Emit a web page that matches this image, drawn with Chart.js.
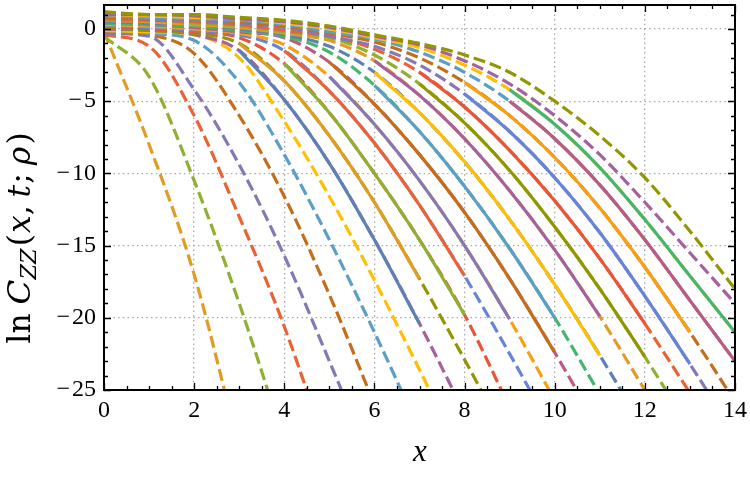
<!DOCTYPE html>
<html><head><meta charset="utf-8">
<script src="https://cdn.jsdelivr.net/npm/chart.js@4"></script>
<style>html,body{margin:0;padding:0;background:#fff}canvas{display:block}</style>
</head><body>
<canvas id="c" width="750" height="480"></canvas>
<script>
// ---- data ----
const xGrid = [0,1,2,3,4,5,6,7,8,9,10,11,12,13,14];
const xTickValues = [0,2,4,6,8,10,12,14];
const xTickLabels = ['0','2','4','6','8','10','12','14'];
const yTickValues = [-25,-20,-15,-10,-5,0];
const yTickLabels = ['\u2212\u200A25','\u2212\u200A20','\u2212\u200A15','\u2212\u200A10','\u2212\u200A5','0'];

// dashed curves (index 2..25 in the colour cycle), values at x = 0,1,2,...
const dashed02 = [-0.2, -8.0, -17.0, -29.1];
const dashed03 = [-0.5, -3.3, -10.5, -19.0, -28.6];
const dashed04 = [-0.4, -1.2, -6.0, -13.0, -20.6, -29.7];
const dashed05 = [-0.3, -0.5, -4.2, -9.4, -15.7, -23.0, -30.5];
const dashed06 = [-0.2, -0.4, -1.7, -6.0, -11.6, -18.4, -26.0];
const dashed07 = [-0.1, -0.3, -0.8, -3.7, -8.7, -14.6, -21.0, -27.8];
const dashed08 = [-0.1, -0.2, -0.4, -2.0, -6.4, -11.6, -17.4, -23.6, -30.0];
const dashed09 = [0.0, -0.1, -0.4, -1.5, -4.9, -9.3, -14.6, -20.4, -26.6];
const dashed10 = [0.1, -0.1, -0.3, -1.0, -3.6, -7.4, -12.0, -17.3, -22.9, -28.7];
const dashed11 = [0.2, 0.0, -0.2, -0.6, -2.4, -5.8, -10.0, -14.6, -19.8, -26.2];
const dashed12 = [0.2, 0.1, -0.1, -0.4, -1.5, -4.3, -7.9, -12.2, -17.1, -22.5, -28.1];
const dashed13 = [0.3, 0.2, 0.0, -0.3, -1.1, -3.3, -6.6, -10.5, -15.0, -20.1, -25.7];
const dashed14 = [0.4, 0.3, 0.1, -0.2, -0.6, -2.3, -5.2, -8.7, -12.7, -17.3, -22.4, -27.8];
const dashed15 = [0.4, 0.3, 0.2, -0.1, -0.5, -1.6, -3.9, -7.1, -10.9, -15.2, -20.0, -25.3];
const dashed16 = [0.5, 0.4, 0.3, 0.0, -0.4, -1.2, -3.0, -5.8, -9.2, -13.2, -17.7, -22.6, -27.8];
const dashed17 = [0.6, 0.5, 0.3, 0.1, -0.3, -0.8, -2.2, -4.6, -7.6, -11.2, -15.3, -19.9, -25.0];
const dashed18 = [0.6, 0.6, 0.4, 0.2, -0.2, -0.6, -1.8, -3.8, -6.5, -9.8, -13.7, -18.0, -22.7, -27.7];
const dashed19 = [0.7, 0.6, 0.5, 0.3, -0.1, -0.5, -1.4, -3.0, -5.4, -8.4, -11.9, -15.9, -20.4, -25.2];
const dashed20 = [0.8, 0.7, 0.6, 0.4, 0.1, -0.5, -1.2, -2.5, -4.5, -7.1, -10.3, -14.1, -18.5, -23.2, -28.1];
const dashed21 = [0.8, 0.8, 0.7, 0.5, 0.2, -0.3, -0.9, -2.0, -3.7, -6.0, -8.9, -12.4, -16.5, -21.0, -25.8];
const dashed22 = [0.9, 0.8, 0.7, 0.6, 0.3, -0.2, -0.7, -1.6, -3.0, -5.0, -7.6, -10.8, -14.6, -18.8, -23.0];
const dashed23 = [1.0, 0.9, 0.8, 0.7, 0.4, 0.0, -0.6, -1.3, -2.5, -4.2, -6.6, -9.6, -13.2, -17.1, -21.0];
const dashed24 = [1.0, 1.0, 0.9, 0.7, 0.5, 0.1, -0.5, -1.1, -2.2, -3.8, -6.0, -8.7, -12.0, -15.5, -19.0];
const dashed25 = [1.2, 1.0, 1.0, 0.8, 0.6, 0.2, -0.4, -1.0, -1.8, -3.0, -5.0, -7.4, -10.3, -14.0, -18.0];

// solid curves (index 1..15), first value at x = solidStart
const solidStart = [3,3,4,4,5,5,6,6,6,7,7,8,8,9,9];
const solid01 = [-1.5, -4.9, -9.3, -14.6, -20.4];
const solid02 = [-1.0, -3.6, -7.4, -12.0, -17.3];
const solid03 = [-2.4, -5.8, -10.0, -14.6, -19.8];
const solid04 = [-1.5, -4.3, -7.9, -12.2, -17.1];
const solid05 = [-3.3, -6.6, -10.5, -15.0, -20.1];
const solid06 = [-2.3, -5.2, -8.7, -12.7, -17.3, -22.4];
const solid07 = [-3.9, -7.1, -10.9, -15.2, -20.0];
const solid08 = [-3.0, -5.8, -9.2, -13.2, -17.7, -22.6];
const solid09 = [-2.2, -4.6, -7.6, -11.2, -15.3, -19.9];
const solid10 = [-3.8, -6.5, -9.8, -13.7, -18.0, -22.7];
const solid11 = [-3.0, -5.4, -8.4, -11.9, -15.9, -20.4];
const solid12 = [-4.5, -7.1, -10.3, -14.1, -18.5, -23.2];
const solid13 = [-3.7, -6.0, -8.9, -12.4, -16.5, -21.0];
const solid14 = [-5.0, -7.6, -10.8, -14.6, -18.8, -23.0];
const solid15 = [-4.2, -6.6, -9.6, -13.2, -17.1, -21.0];

const palette = ['#5E81B5','#E19C24','#8FB032','#EB6235','#8778B3','#C56E1A','#5D9EC7',
  '#FFBF00','#A5609D','#929600','#E95536','#6685D9','#F89F13','#BC5B80','#47B66D'];

const dashedList = [dashed02,dashed03,dashed04,dashed05,dashed06,dashed07,dashed08,dashed09,
  dashed10,dashed11,dashed12,dashed13,dashed14,dashed15,dashed16,dashed17,dashed18,dashed19,
  dashed20,dashed21,dashed22,dashed23,dashed24,dashed25];
const solidList = [solid01,solid02,solid03,solid04,solid05,solid06,solid07,solid08,solid09,
  solid10,solid11,solid12,solid13,solid14,solid15];

// ---- build datasets ----
const datasets = [];
dashedList.forEach((arr, i) => {
  const idx = i + 2;
  datasets.push({
    data: arr.map((v, j) => ({x: xGrid[j], y: v})),
    borderColor: palette[(idx - 1) % 15],
    borderWidth: 3.2,
    borderDash: [12, 5],
    pointRadius: 0,
    fill: false,
    cubicInterpolationMode: 'monotone',
    order: 100 - idx,
    clip: 0
  });
});
solidList.forEach((arr, i) => {
  datasets.push({
    data: arr.map((v, j) => ({x: xGrid[solidStart[i] + j], y: v})),
    borderColor: palette[i % 15],
    borderWidth: 3.2,
    pointRadius: 0,
    fill: false,
    cubicInterpolationMode: 'monotone',
    order: -1 - i,
    clip: 0
  });
});

const SERIF = "'Liberation Serif', 'DejaVu Serif', serif";
const TSERIF = "'DejaVu Serif', 'Liberation Serif', serif";

const framePlugin = {
  id: 'frame',
  afterDatasetsDraw(chart) {
    const {ctx, chartArea: a, scales: {x, y}} = chart;
    ctx.save();
    ctx.strokeStyle = '#000';
    ctx.lineWidth = 1.3;
    ctx.beginPath();
    for (let k = 0; k <= 28; k++) {
      const v = k * 0.5;
      const px = Math.round(x.getPixelForValue(v)) + 0.5;
      const len = (k % 4 === 0) ? 7 : 4;
      ctx.moveTo(px, a.bottom); ctx.lineTo(px, a.bottom - len);
      ctx.moveTo(px, a.top); ctx.lineTo(px, a.top + len);
    }
    for (let v = -25; v <= 1; v++) {
      const py = Math.round(y.getPixelForValue(v)) + 0.5;
      const len = (v % 5 === 0) ? 7 : 4;
      ctx.moveTo(a.left, py); ctx.lineTo(a.left + len, py);
      ctx.moveTo(a.right, py); ctx.lineTo(a.right - len, py);
    }
    ctx.stroke();
    ctx.lineWidth = 2;
    ctx.strokeRect(a.left, a.top, a.right - a.left, a.bottom - a.top);
    ctx.restore();
  },
  afterDraw(chart) {
    const {ctx} = chart;
    ctx.save();
    ctx.fillStyle = '#000';
    // x title
    ctx.font = 'italic 31px ' + SERIF;
    ctx.textAlign = 'center';
    ctx.textBaseline = 'middle';
    ctx.fillText('x', 420, 453);
    // y title
    const segs = [
      {t: 'ln', f: '28px ' + TSERIF, dy: 0, g: 8},
      {t: 'C', f: 'italic 29px ' + TSERIF, dy: 0, g: 0},
      {t: 'ZZ', f: 'italic 20px ' + TSERIF, dy: 7, g: 2},
      {t: '(', f: '28px ' + TSERIF, dy: 0, g: 1},
      {t: 'x', f: 'italic 28px ' + TSERIF, dy: 0, g: 0},
      {t: ',', f: '28px ' + TSERIF, dy: 0, g: 7},
      {t: 't', f: 'italic 28px ' + TSERIF, dy: 0, g: 1},
      {t: ';', f: '28px ' + TSERIF, dy: 0, g: 7},
      {t: '\u03C1', f: 'italic 28px ' + TSERIF, dy: 0, g: 2},
      {t: ')', f: '28px ' + TSERIF, dy: 0, g: 0}
    ];
    let total = 0;
    segs.forEach(s => { ctx.font = s.f; s.w = ctx.measureText(s.t).width; total += s.w + s.g; });
    const sc = Math.min(1.12, 250 / total);
    ctx.translate(22, 238);
    ctx.rotate(-Math.PI / 2);
    ctx.scale(sc, sc);
    ctx.textAlign = 'left';
    ctx.textBaseline = 'middle';
    let cx = -total / 2;
    segs.forEach(s => { ctx.font = s.f; ctx.fillText(s.t, cx, s.dy); cx += s.w + s.g; });
    ctx.restore();
  }
};

new Chart(document.getElementById('c'), {
  type: 'line',
  data: {datasets},
  options: {
    responsive: false,
    animation: false,
    devicePixelRatio: 1,
    layout: {padding: {top: 5, right: 15, left: 0, bottom: 0}},
    plugins: {legend: {display: false}, tooltip: {enabled: false}},
    scales: {
      x: {
        type: 'linear', min: 0, max: 14,
        afterFit: s => { s.height = 90; s.paddingLeft = 0; s.paddingRight = 0; },
        afterBuildTicks: s => { s.ticks = xTickValues.map(v => ({value: v})); },
        ticks: {
          padding: 6, color: '#000', maxRotation: 0,
          font: {family: SERIF, size: 24},
          callback: v => xTickLabels[xTickValues.indexOf(v)]
        },
        grid: {color: '#a8a8a8', lineWidth: 1.3, drawTicks: false},
        border: {display: false, dash: [1.5, 3.2]}
      },
      y: {
        type: 'linear', min: -25, max: 1.66,
        afterFit: s => { s.width = 104; s.paddingTop = 0; s.paddingBottom = 0; },
        afterBuildTicks: s => { s.ticks = yTickValues.map(v => ({value: v})); },
        ticks: {
          padding: 8, color: '#000',
          font: {family: SERIF, size: 24},
          callback: v => yTickLabels[yTickValues.indexOf(v)]
        },
        grid: {color: '#a8a8a8', lineWidth: 1.3, drawTicks: false},
        border: {display: false, dash: [1.5, 3.2]}
      }
    }
  },
  plugins: [framePlugin]
});
</script>
</body></html>
